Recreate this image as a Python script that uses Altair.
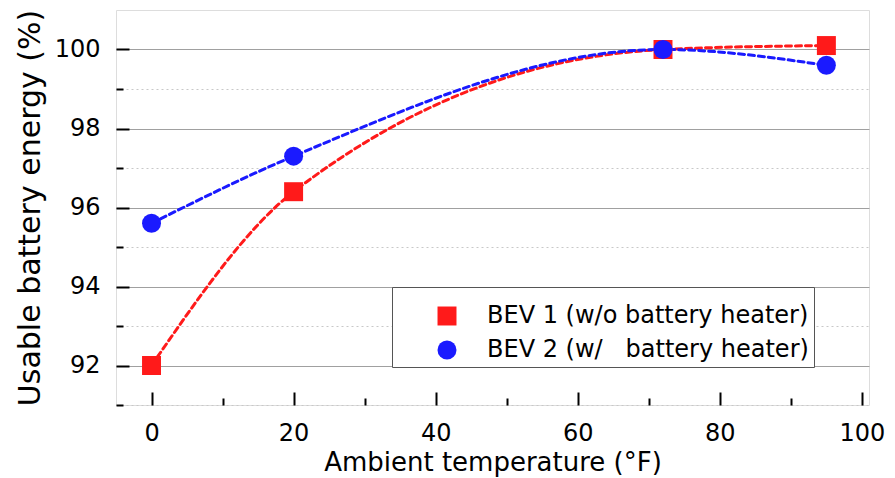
import altair as alt
import pandas as pd

# ---- data ----
temps = [0, 20, 72, 95]
bev1 = [92.0, 96.4, 100.0, 100.1]
bev2 = [95.6, 97.3, 100.0, 99.6]
series_names = ["BEV 1 (w/o battery heater)", "BEV 2 (w/\u00a0\u00a0 battery heater)"]
colors = ["#ff1a1a", "#1a1aff"]
shapes = ["square", "circle"]
x_major = [0, 20, 40, 60, 80, 100]
x_minor = [10, 30, 50, 70, 90]
y_major = [92, 94, 96, 98, 100]
y_minor = [91, 93, 95, 97, 99]

df = pd.DataFrame({
    "temp": temps + temps,
    "energy": bev1 + bev2,
    "series": [series_names[0]] * len(temps) + [series_names[1]] * len(temps),
})

FONT = "DejaVu Sans"
xscale = alt.Scale(domain=[-5, 101], nice=False, zero=False)
yscale = alt.Scale(domain=[91, 101], nice=False, zero=False)

line_style = dict(interpolate="monotone", strokeDash=[6, 4], strokeWidth=3, strokeCap="round")

# red dashed curve (carries the minor ticks / minor grid)
line1 = alt.Chart(df).transform_filter(
    alt.datum.series == series_names[0]
).mark_line(color=colors[0], **line_style).encode(
    x=alt.X("temp:Q", scale=xscale,
            axis=alt.Axis(values=x_minor, orient="bottom", tickSize=7, offset=-7,
                          domain=False, labels=False, title=None, grid=False,
                          tickColor="black", tickWidth=2)),
    y=alt.Y("energy:Q", scale=yscale,
            axis=alt.Axis(values=y_minor, orient="left", tickSize=7, offset=-7,
                          domain=False, labels=False, title=None, grid=True,
                          gridDash=[2, 3], gridColor="#c8c8c8", gridWidth=1,
                          tickColor="black", tickWidth=2)),
)

# blue dashed curve
line2 = alt.Chart(df).transform_filter(
    alt.datum.series == series_names[1]
).mark_line(color=colors[1], **line_style).encode(
    x=alt.X("temp:Q", scale=xscale, axis=None),
    y=alt.Y("energy:Q", scale=yscale, axis=None),
)

leg = alt.Legend(
    title="\u00a0", titleFontSize=10, titlePadding=2, orient="none",
    legendX=276, legendY=277, direction="vertical",
    labelFont=FONT, labelFontSize=24, labelColor="black", labelLimit=600,
    labelExpr="datum.label + '\u00a0'",
    symbolSize=360, symbolStrokeWidth=0,
    strokeColor="#555555", fillColor="white", padding=5, rowPadding=10,
    symbolOffset=38, labelOffset=28,
)

points = alt.Chart(df).mark_point(filled=True, size=360, opacity=1).encode(
    x=alt.X("temp:Q", scale=xscale,
            axis=alt.Axis(values=x_major, orient="bottom", tickSize=13, offset=-13,
                          domain=False, labelPadding=16, labelFontSize=24, labelFont=FONT,
                          labelColor="black", labelFlush=False, labelOverlap=False,
                          title="Ambient temperature (°F)", titleFontSize=26, titleFont=FONT,
                          titleFontWeight="normal", titleColor="black", titlePadding=4,
                          grid=False, tickWidth=2, tickColor="black")),
    y=alt.Y("energy:Q", scale=yscale,
            axis=alt.Axis(values=y_major, orient="left", tickSize=13, offset=-13,
                          domain=False, labelPadding=16, labelFontSize=24, labelFont=FONT,
                          labelColor="black", labelOverlap=False,
                          title="Usable battery energy (%)", titleFontSize=30, titleFont=FONT,
                          titleFontWeight="normal", titleColor="black", titlePadding=9,
                          grid=True, gridColor="#a0a0a0", gridWidth=1,
                          tickWidth=2, tickColor="black")),
    color=alt.Color("series:N", scale=alt.Scale(domain=series_names, range=colors), legend=leg),
    shape=alt.Shape("series:N", scale=alt.Scale(domain=series_names, range=shapes), legend=leg),
)

chart = alt.layer(line1, line2, points).resolve_axis(
    x="independent", y="independent"
).properties(
    width=753, height=395,
    padding={"left": 108, "top": 2, "right": 18, "bottom": 73},
    autosize=alt.AutoSizeParams(type="none"),
).configure_view(stroke="black", strokeWidth=2).configure(font=FONT)

chart.save("out.html", embed_options={"renderer": "svg", "actions": False})
